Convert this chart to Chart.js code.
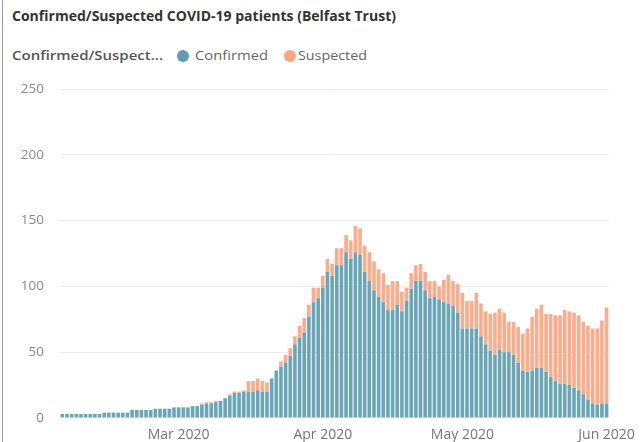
<!DOCTYPE html>
<html>
<head>
<meta charset="utf-8">
<script src="https://cdn.jsdelivr.net/npm/chart.js@4"></script>
<style>
  html, body { margin: 0; padding: 0; background: #fff; }
  body { width: 644px; height: 442px; position: relative; overflow: hidden; font-family: "Open Sans", "DejaVu Sans", sans-serif; }
  #frame { position: absolute; left: 2px; top: 0; width: 1px; height: 442px; background: #9a9a9a; }
  .txt { position: absolute; white-space: nowrap; transform-origin: 0 50%; line-height: 18px; }
  #title { left: 12px; top: 7px; font-size: 13.5px; font-weight: bold; color: #333; }
  .leg { top: 47px; font-size: 12.5px; color: #666; }
  #legHead { left: 12px; font-weight: 600; color: #555; }
  .dot { position: absolute; top: 50px; width: 12px; height: 12px; border-radius: 50%; }
  #wrap { position: absolute; left: 0; top: 65px; width: 644px; height: 377px; }
</style>
</head>
<body>
<div id="frame"></div>
<div id="title" class="txt" data-w="384">Confirmed/Suspected COVID-19 patients (Belfast Trust)</div>
<div id="legHead" class="txt leg" data-w="151">Confirmed/Suspect...</div>
<div class="dot" style="left:177px; background:#5e9db0"></div>
<div class="txt leg" style="left:195px" data-w="73">Confirmed</div>
<div class="dot" style="left:284px; background:#fca47f"></div>
<div class="txt leg" style="left:298px" data-w="69">Suspected</div>
<div id="wrap"><canvas id="chart1"></canvas></div>
<script>
// daily values, 5 Feb 2020 .. 1 Jun 2020
const startDate = new Date(2020, 1, 5);
const dayCount = 118;
const monthNames = ['Jan', 'Feb', 'Mar', 'Apr', 'May', 'Jun', 'Jul'];

const confirmed = [
  3, 3, 3, 3, 3, 3, 3, 3, 3,
  4, 4, 4, 4, 4, 4,
  6, 6, 6, 6, 6,
  7, 7, 7, 7,
  8, 8, 8, 8, 9, 9,
  10, 11, 11, 12, 13, 15, 17, 19, 19, 20,
  20, 20, 21, 20, 20, 30, 36, 39, 42, 47,
  56, 61, 65, 77, 88, 91, 99, 111, 108, 116,
  116, 126, 121, 126, 124, 111, 104, 97, 92, 88,
  82, 82, 86, 81, 89, 98, 104, 104, 97, 91,
  92, 90, 88, 87, 85, 80, 68, 68, 68, 68,
  62, 56, 51, 48, 52, 50, 50, 48, 42, 36,
  35, 36, 38, 38, 35, 31, 28, 26, 26, 25,
  23, 21, 18, 14, 11, 10, 11, 11
];
const suspected = [
  0, 0, 0, 0, 0, 0, 0, 0, 0,
  0, 0, 0, 0, 0, 0,
  0, 0, 0, 0, 0,
  0, 0, 0, 0,
  0, 0, 0, 0, 0, 0,
  1, 1, 1, 1, 0, 0, 1, 1, 1, 1,
  8, 8, 9, 8, 7, 0, 0, 4, 6, 6,
  6, 9, 11, 9, 11, 8, 9, 10, 9, 13,
  13, 13, 14, 20, 20, 20, 22, 22, 21, 22,
  19, 22, 18, 15, 10, 12, 12, 13, 14, 13,
  12, 10, 17, 22, 19, 22, 27, 21, 21, 27,
  25, 25, 28, 32, 31, 30, 23, 25, 27, 28,
  33, 41, 45, 48, 44, 48, 50, 52, 56, 56,
  57, 57, 55, 56, 57, 58, 63, 73
];

const dates = [];
for (let i = 0; i < dayCount; i++) {
  const d = new Date(startDate);
  d.setDate(startDate.getDate() + i);
  dates.push(d);
}
const labels = dates.map(d => d.getDate() + ' ' + monthNames[d.getMonth()] + ' 2020');
const yTicks = [0, 50, 100, 150, 200, 250];

// the header text in the source is a bit wider than our fonts, stretch to fit
document.querySelectorAll('.txt').forEach(el => {
  const w = el.getBoundingClientRect().width;
  el.style.transform = 'scaleX(' + (el.dataset.w / w) + ')';
});

const ctx1 = document.getElementById("chart1");
const chart1 = new Chart(ctx1, {
  type: "bar",
  data: {
    labels: labels,
    datasets: [
      {
        label: "Confirmed",
        data: confirmed,
        backgroundColor: '#6aa6b7',
        barPercentage: 0.78,
        categoryPercentage: 1
      },
      {
        label: "Suspected",
        data: suspected,
        backgroundColor: '#fcac8a',
        barPercentage: 0.78,
        categoryPercentage: 1
      }
    ]
  },
  options: {
    responsive: true,
    maintainAspectRatio: false,
    animation: false,
    layout: { padding: { top: 12, right: 29, left: 0, bottom: 0 } },
    plugins: {
      legend: { display: false },
      tooltip: { enabled: false }
    },
    scales: {
      x: {
        stacked: true,
        afterFit: function(scale) { scale.height = 24; },
        grid: { display: false, drawTicks: false },
        border: { display: false },
        ticks: {
          autoSkip: false,
          maxRotation: 0,
          minRotation: 0,
          padding: 9,
          color: '#777',
          font: { family: "'Open Sans', 'DejaVu Sans', sans-serif", size: 14 },
          callback: function(value, index) {
            const d = dates[index];
            return d.getDate() === 1 ? monthNames[d.getMonth()] + ' 2020' : '';
          }
        }
      },
      y: {
        stacked: true,
        min: 0,
        max: 250,
        afterFit: function(scale) { scale.width = 60; },
        afterBuildTicks: function(scale) { scale.ticks = yTicks.map(v => ({ value: v })); },
        grid: { color: '#ebebeb', drawTicks: false },
        border: { display: false },
        ticks: {
          padding: 16,
          color: '#8a8a8a',
          font: { family: "'Open Sans', 'DejaVu Sans', sans-serif", size: 13.5 }
        }
      }
    }
  }
});
</script>
</body>
</html>
